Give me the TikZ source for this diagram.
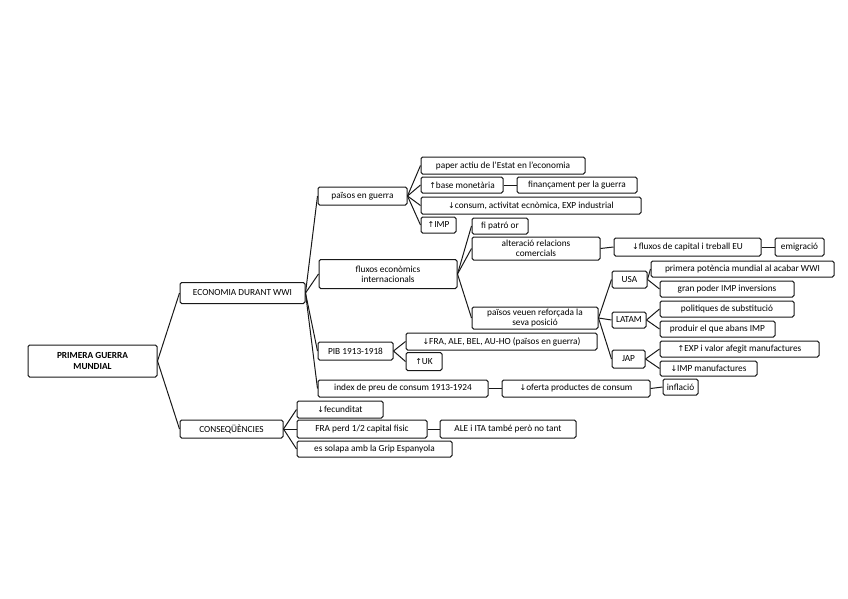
\documentclass[tikz,border=0pt]{standalone}
\usepackage{fontspec}
\setmainfont{Carlito}
\newfontfamily\arrowfont{DejaVu Sans}
\newcommand\arrUp{{\arrowfont\fontsize{8}{9}\selectfont ↑}}
\newcommand\arrDn{{\arrowfont\fontsize{8}{9}\selectfont ↓}}
\begin{document}
\begin{tikzpicture}[x=1pt,y=-1pt,
  box/.style={draw=black!90, fill=white, rounded corners=1.6pt, line width=1pt,
    inner sep=0pt, align=center, font=\fontsize{9.3}{10}\selectfont},
  link/.style={draw=black!90, line width=1pt}]
\useasboundingbox (0,0) rectangle (848,599);
% root and first level
\node[box, minimum width=129pt, minimum height=32pt, font=\fontsize{9.3}{10.5}\selectfont\bfseries] (root) at (92.5,361) {PRIMERA GUERRA\\MUNDIAL};
\node[box, minimum width=125pt, minimum height=21pt] (eco) at (242.5,293) {ECONOMIA DURANT WWI};
\node[box, minimum width=103pt, minimum height=18pt] (cons) at (231.5,429) {CONSEQÜÈNCIES};
% economia children
\node[box, minimum width=89pt, minimum height=18pt] (pg) at (362.5,196) {països en guerra};
\node[box, minimum width=138pt, minimum height=29pt] (flux) at (388,274) {fluxos econòmics\\internacionals};
\node[box, minimum width=75pt, minimum height=18pt] (pib) at (355.5,351) {PIB 1913-1918};
\node[box, minimum width=170pt, minimum height=17pt] (idx) at (403,388.5) {index de preu de consum 1913-1924};
% països en guerra children
\node[box, minimum width=164pt, minimum height=17pt] (paper) at (503,165.5) {paper actiu de l'Estat en l'economia};
\node[box, minimum width=82pt, minimum height=16pt] (base) at (462,185) {\arrUp base monetària};
\node[box, minimum width=120pt, minimum height=16pt] (fin) at (577,185) {finançament per la guerra};
\node[box, minimum width=220pt, minimum height=17pt] (consum) at (531,205.5) {\arrDn consum, activitat ecnòmica, EXP industrial};
\node[box, minimum width=35pt, minimum height=16pt] (imp) at (438.5,225) {\arrUp IMP};
% fluxos children
\node[box, minimum width=56pt, minimum height=16pt] (fipatro) at (500,226) {fi patró or};
\node[box, minimum width=128pt, minimum height=23pt] (alt) at (536,248.5) {alteració relacions\\comercials};
\node[box, minimum width=147pt, minimum height=18pt] (fcap) at (687.5,247) {\arrDn fluxos de capital i treball EU};
\node[box, minimum width=49pt, minimum height=18pt] (emig) at (799.5,247) {emigració};
\node[box, minimum width=126pt, minimum height=22pt] (ref) at (535,318) {països veuen reforçada la\\seva posició};
% countries
\node[box, minimum width=35pt, minimum height=17pt] (usa) at (629.5,279.5) {USA};
\node[box, minimum width=34pt, minimum height=16pt] (latam) at (629,320) {LATAM};
\node[box, minimum width=33pt, minimum height=18pt] (jap) at (628.5,359) {JAP};
\node[box, minimum width=183pt, minimum height=16pt] (prim) at (742.5,269) {primera potència mundial al acabar WWI};
\node[box, minimum width=134pt, minimum height=16pt] (gran) at (727,289) {gran poder IMP inversions};
\node[box, minimum width=134pt, minimum height=16pt] (polit) at (727,309) {politiques de substitució};
\node[box, minimum width=115pt, minimum height=16pt] (prod) at (717.5,329) {produir el que abans IMP};
\node[box, minimum width=159pt, minimum height=16pt] (exp) at (739.5,349) {\arrUp EXP i valor afegit manufactures};
\node[box, minimum width=97pt, minimum height=15pt] (impm) at (708.5,368.5) {\arrDn IMP manufactures};
% PIB children
\node[box, minimum width=191pt, minimum height=17pt] (fra) at (501.5,341.5) {\arrDn FRA, ALE, BEL, AU-HO (països en guerra)};
\node[box, minimum width=36pt, minimum height=18pt] (uk) at (424,361.5) {\arrUp UK};
% index chain
\node[box, minimum width=148pt, minimum height=17pt] (ofer) at (576,388.5) {\arrDn oferta productes de consum};
\node[box, minimum width=35pt, minimum height=16pt] (infl) at (680.5,387) {inflació};
% conseqüències children
\node[box, minimum width=86pt, minimum height=17pt] (fec) at (340,409.5) {\arrDn fecunditat};
\node[box, minimum width=130pt, minimum height=18pt] (frap) at (362,429) {FRA perd 1/2 capital fisic};
\node[box, minimum width=136pt, minimum height=18pt] (ale) at (508,429) {ALE i ITA també però no tant};
\node[box, minimum width=155pt, minimum height=16pt] (grip) at (374.5,449) {es solapa amb la Grip Espanyola};
% connectors
\draw[link] (root.east) -- (eco.west);
\draw[link] (root.east) -- (cons.west);
\foreach \c in {pg,flux,pib,idx} \draw[link] (eco.east) -- (\c.west);
\foreach \c in {paper,base,consum,imp} \draw[link] (pg.east) -- (\c.west);
\draw[link] (base.east) -- (fin.west);
\foreach \c in {fipatro,alt,ref} \draw[link] (flux.east) -- (\c.west);
\draw[link] (alt.east) -- (fcap.west);
\draw[link] (fcap.east) -- (emig.west);
\foreach \c in {usa,latam,jap} \draw[link] (ref.east) -- (\c.west);
\draw[link] (usa.east) -- (prim.west);
\draw[link] (usa.east) -- (gran.west);
\draw[link] (latam.east) -- (polit.west);
\draw[link] (latam.east) -- (prod.west);
\draw[link] (jap.east) -- (exp.west);
\draw[link] (jap.east) -- (impm.west);
\draw[link] (pib.east) -- (fra.west);
\draw[link] (pib.east) -- (uk.west);
\draw[link] (idx.east) -- (ofer.west);
\draw[link] (ofer.east) -- (infl.west);
\foreach \c in {fec,frap,grip} \draw[link] (cons.east) -- (\c.west);
\draw[link] (frap.east) -- (ale.west);
\end{tikzpicture}
\end{document}
